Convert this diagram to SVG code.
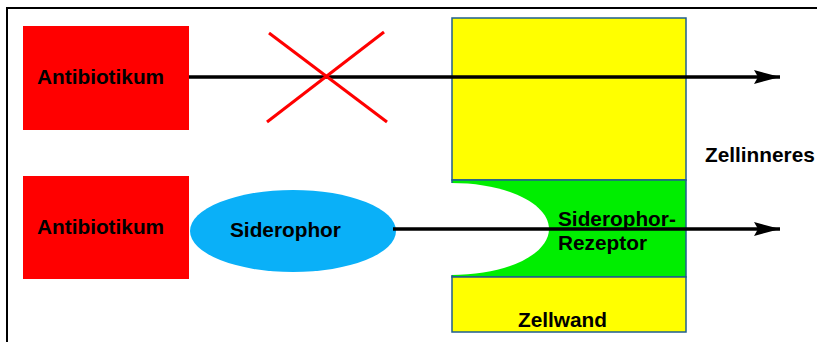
<svg xmlns="http://www.w3.org/2000/svg" width="817" height="342" viewBox="0 0 817 342">
<defs>
<style>
.t{font-family:"Liberation Sans",Arial,sans-serif;font-weight:bold;font-size:20.8px;fill:#000}
.red{fill:#ff0000}
.wall{fill:#ffff00;stroke:#1f5f8f;stroke-width:1.5}
.conn{stroke:#000;stroke-width:3.5;fill:none}
.x{stroke:#ff0000;stroke-width:3;fill:none}
</style>
<marker id="ah" viewBox="0 0 26 14" refX="26" refY="7" markerWidth="26" markerHeight="14" markerUnits="userSpaceOnUse" orient="auto">
<path d="M0,0 L26,7 L0,14 L4,7 z" fill="#000"/>
</marker>
</defs>
<rect width="817" height="342" fill="#fff"/>
<rect x="7" y="8" width="830" height="350" fill="none" stroke="#000" stroke-width="2"/>
<g id="wall">
<rect class="wall" x="452" y="18" width="234" height="162"/>
<rect x="452" y="180" width="234" height="97" fill="#00ee00" stroke="#1f5f8f" stroke-width="1.5"/>
<rect class="wall" x="452" y="277" width="234" height="55"/>
<path d="M451,183 C510,183 549,205 549,229 C549,253 510,275 451,275 Z" fill="#fff"/>
<text class="t" x="518" y="327">Zellwand</text>
</g>
<g id="receptor">
<text class="t" x="558" y="226">Siderophor-</text>
<text class="t" x="558" y="250">Rezeptor</text>
</g>
<g id="antibiotikum1">
<rect class="red" x="23" y="26" width="166" height="104"/>
<text class="t" x="37" y="84">Antibiotikum</text>
</g>
<g id="antibiotikum2">
<rect class="red" x="23" y="176" width="166" height="103"/>
<text class="t" x="37" y="234">Antibiotikum</text>
</g>
<g id="siderophor">
<ellipse cx="293" cy="231" rx="103" ry="41" fill="#0ab0f8"/>
<text class="t" x="230" y="237">Siderophor</text>
</g>
<g id="zellinneres">
<text class="t" x="705" y="162">Zellinneres</text>
</g>
<g id="connectors">
<line class="conn" x1="189" y1="77" x2="780" y2="77" marker-end="url(#ah)"/>
<line class="conn" x1="393" y1="229" x2="780" y2="229" marker-end="url(#ah)"/>
<line class="x" x1="269" y1="33" x2="387" y2="122"/>
<line class="x" x1="384" y1="32" x2="267" y2="122"/>
</g>
</svg>
